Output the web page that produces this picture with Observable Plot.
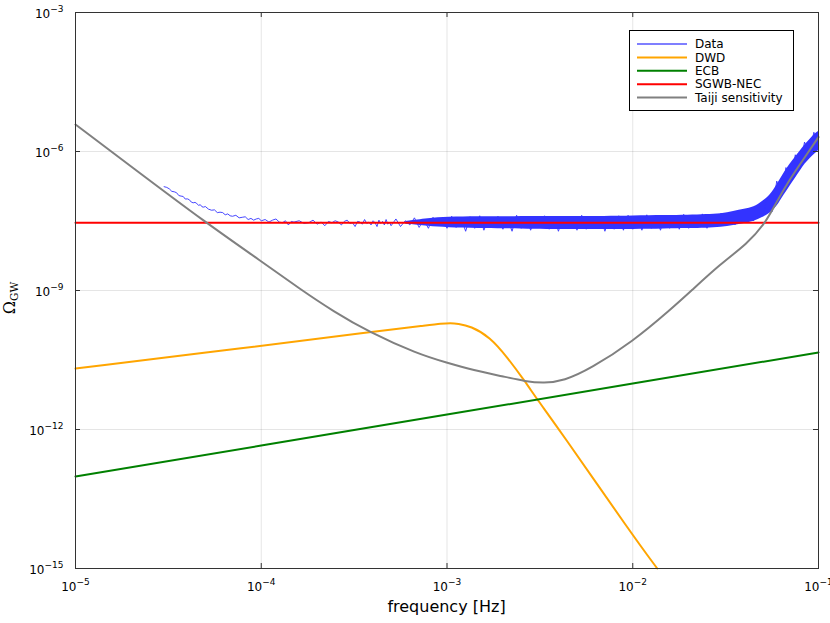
<!DOCTYPE html>
<html><head><meta charset="utf-8">
<script src="https://cdn.jsdelivr.net/npm/d3@7"></script>
<script src="https://cdn.jsdelivr.net/npm/@observablehq/plot@0.6"></script>
<style>body{margin:0;background:#fff} svg{display:block}</style>
</head><body><div id="chart"></div>
<script>
// ---- axes ----
const xTicks = [1e-5, 1e-4, 1e-3, 1e-2, 1e-1];
const xTickLabels = ["10−5", "10−4", "10−3", "10−2", "10−1"];
const yTicks = [1e-15, 1e-12, 1e-9, 1e-6, 1e-3];
const yTickLabels = ["10−15", "10−12", "10−9", "10−6", "10−3"];
const xLabel = "frequency [Hz]";
const seriesNames = ["Data", "DWD", "ECB", "SGWB-NEC", "Taiji sensitivity"];
const seriesColors = ["#0000ff", "#ffa500", "#008000", "#ff0000", "#808080"];

// ---- Data (noisy) ----
const dataFreq = [
  3.0e-5,3.1e-5,3.2e-5,3.3e-5,3.4e-5,3.5e-5,3.6e-5,3.7e-5,3.8e-5,3.9e-5,4.0e-5,4.1e-5,4.2e-5,4.3e-5,4.4e-5,4.5e-5,4.6e-5,4.7e-5,4.8e-5,4.9e-5,
  5.0e-5,5.2e-5,5.4e-5,5.6e-5,5.8e-5,6.0e-5,6.2e-5,6.4e-5,6.6e-5,6.8e-5,7.0e-5,7.3e-5,7.6e-5,7.9e-5,8.2e-5,8.5e-5,8.8e-5,9.1e-5,9.4e-5,9.7e-5,
  1.0e-4,1.05e-4,1.1e-4,1.15e-4,1.2e-4,1.25e-4,1.3e-4,1.35e-4,1.4e-4,1.45e-4,1.5e-4,
  1.6e-4,1.7e-4,1.8e-4,1.9e-4,2.0e-4,2.1e-4,2.2e-4,2.3e-4,2.4e-4,2.5e-4,2.6e-4,2.7e-4,2.8e-4,2.9e-4,3.0e-4,3.1e-4,3.2e-4,3.3e-4,3.4e-4,3.5e-4,
  3.6e-4,3.7e-4,3.8e-4,3.9e-4,4.0e-4,4.1e-4,4.2e-4,4.3e-4,4.4e-4,4.5e-4,4.6e-4,4.7e-4,4.8e-4,4.9e-4,5.0e-4,
  5.31e-4,5.62e-4,5.96e-4,6.31e-4,6.68e-4,7.08e-4,7.50e-4,7.94e-4,8.41e-4,8.91e-4,9.44e-4,
  1.00e-3,1.06e-3,1.12e-3,1.19e-3,1.26e-3,1.33e-3,1.41e-3,1.50e-3,1.58e-3,1.68e-3,1.78e-3,1.88e-3,2.00e-3,2.11e-3,2.24e-3,2.37e-3,2.51e-3,2.66e-3,2.82e-3,2.99e-3,
  3.16e-3,3.35e-3,3.55e-3,3.76e-3,3.98e-3,4.22e-3,4.47e-3,4.73e-3,5.01e-3,5.31e-3,5.62e-3,5.96e-3,6.31e-3,6.68e-3,7.08e-3,7.50e-3,7.94e-3,8.41e-3,8.91e-3,9.44e-3,
  1.00e-2,1.06e-2,1.12e-2,1.19e-2,1.26e-2,1.33e-2,1.41e-2,1.50e-2,1.58e-2,1.68e-2,1.78e-2,1.88e-2,2.00e-2,2.11e-2,2.24e-2,2.37e-2,2.51e-2,2.66e-2,2.82e-2,2.99e-2,
  3.16e-2,3.35e-2,3.55e-2,3.76e-2,3.98e-2,4.22e-2,4.47e-2,4.73e-2,5.01e-2,5.31e-2,5.62e-2,5.96e-2,6.31e-2,6.68e-2,7.08e-2,7.50e-2,7.94e-2,8.41e-2,8.91e-2,9.44e-2,1.0e-1
];
const dataValue = [
  17.4e-8,16.8e-8,15.6e-8,13.8e-8,13.5e-8,12.9e-8,11.2e-8,10.9e-8,10.7e-8,9.4e-8,9.5e-8,9.1e-8,8.1e-8,7.8e-8,8.0e-8,7.5e-8,6.9e-8,7.1e-8,6.4e-8,6.3e-8,
  6.5e-8,5.7e-8,5.4e-8,5.5e-8,4.8e-8,4.9e-8,4.8e-8,4.3e-8,4.5e-8,4.1e-8,4.0e-8,4.2e-8,3.7e-8,3.8e-8,3.9e-8,3.4e-8,3.6e-8,3.3e-8,3.5e-8,3.6e-8,
  3.2e-8,3.4e-8,3.0e-8,3.3e-8,3.5e-8,3.0e-8,2.9e-8,3.2e-8,2.6e-8,3.1e-8,3.0e-8,
  3.2e-8,2.8e-8,2.9e-8,3.3e-8,2.7e-8,3.0e-8,2.5e-8,3.1e-8,2.9e-8,3.2e-8,3.0e-8,2.6e-8,3.1e-8,3.3e-8,2.8e-8,2.9e-8,2.4e-8,3.1e-8,3.0e-8,2.7e-8,
  3.4e-8,2.8e-8,3.0e-8,2.6e-8,3.2e-8,2.9e-8,2.4e-8,3.3e-8,2.8e-8,3.1e-8,2.6e-8,3.4e-8,2.7e-8,3.0e-8,2.5e-8,
  3.5e-8,2.4e-8,3.2e-8,2.6e-8,3.7e-8,2.3e-8,3.4e-8,2.2e-8,3.8e-8,2.5e-8,3.6e-8,
  2.2e-8,4.0e-8,2.3e-8,3.7e-8,1.9e-8,3.9e-8,2.2e-8,4.1e-8,2.0e-8,3.7e-8,2.3e-8,4.0e-8,2.1e-8,3.8e-8,1.9e-8,4.2e-8,2.2e-8,3.9e-8,2.0e-8,3.7e-8,
  2.3e-8,4.1e-8,2.1e-8,3.9e-8,1.9e-8,4.0e-8,2.2e-8,3.8e-8,2.0e-8,4.2e-8,2.1e-8,3.9e-8,2.3e-8,4.0e-8,1.9e-8,3.8e-8,2.1e-8,4.1e-8,2.0e-8,4.2e-8,
  2.1e-8,3.9e-8,2.0e-8,4.3e-8,2.2e-8,4.0e-8,2.0e-8,4.2e-8,2.2e-8,4.1e-8,2.1e-8,4.4e-8,2.2e-8,4.2e-8,2.3e-8,4.5e-8,2.2e-8,4.4e-8,2.4e-8,4.7e-8,
  2.5e-8,4.9e-8,2.6e-8,5.2e-8,2.9e-8,5.6e-8,3.2e-8,6.5e-8,4.0e-8,1.0e-7,5.0e-8,2.3e-7,1.1e-7,4.5e-7,2.2e-7,8.5e-7,4.5e-7,1.6e-6,8.0e-7,2.6e-6,1.4e-6
];
// dense part of the Data: envelope of the noise band
const bandFreq = [6e-4,8e-4,1e-3,1.5e-3,2e-3,3e-3,4e-3,5e-3,7e-3,1e-2,1.5e-2,2e-2,2.5e-2,3e-2,3.5e-2,4e-2,4.5e-2,5e-2,5.5e-2,6e-2,6.5e-2,7e-2,7.5e-2,8e-2,8.5e-2,9e-2,9.5e-2,1e-1];
const bandHi = [3.1e-8,3.6e-8,3.85e-8,3.95e-8,3.86e-8,3.95e-8,3.95e-8,3.95e-8,3.95e-8,4.06e-8,4.16e-8,4.16e-8,4.37e-8,4.48e-8,5.07e-8,5.74e-8,6.18e-8,8.34e-8,1.12e-7,1.94e-7,3.35e-7,5.24e-7,7.42e-7,1.05e-6,1.42e-6,1.82e-6,2.33e-6,2.70e-6];
const bandLo = [2.7e-8,2.4e-8,2.25e-8,2.18e-8,2.18e-8,2.07e-8,2.07e-8,2.07e-8,2.07e-8,2.07e-8,2.12e-8,2.18e-8,2.18e-8,2.29e-8,2.53e-8,2.79e-8,3.08e-8,3.76e-8,4.59e-8,6.50e-8,1.12e-7,1.76e-7,2.61e-7,3.89e-7,5.51e-7,7.06e-7,8.61e-7,1.05e-6];

// ---- DWD ----
const dwdFreq = [1e-5,8.75e-5,3.79e-4,8.0e-4,9.23e-4,1.05e-3,1.14e-3,1.34e-3,1.71e-3,2.11e-3,2.65e-3,3.06e-3,4.0e-3,1e-2,1.355e-2];
const dwdValue = [2.07e-11,5.97e-11,1.26e-10,1.80e-10,1.93e-10,1.99e-10,1.93e-10,1.71e-10,9.82e-11,3.63e-11,1.05e-11,4.44e-12,1.03e-12,5.15e-15,1.0e-15];

// ---- ECB ----
const ecbFreq = [1e-5,1e-4,1e-3,1e-2,1e-1];
const ecbValue = [9.7e-14,4.5e-13,2.1e-12,9.8e-12,4.6e-11];

// ---- SGWB-NEC ----
const necFreq = [1e-5,1e-1];
const necValue = [2.9e-8,2.9e-8];

// ---- Taiji sensitivity ----
const taijiFreq = [1e-5,2e-5,5.01e-5,1e-4,1.63e-4,2.46e-4,3.79e-4,6.92e-4,1e-3,1.39e-3,2.0e-3,2.65e-3,3.32e-3,4.26e-3,5.93e-3,1e-2,1.6e-2,2.05e-2,2.97e-2,4.13e-2,5.18e-2,5.87e-2,6.92e-2,8.69e-2,1e-1];
const taijiValue = [3.83e-6,4.7e-7,2.94e-8,4.29e-9,1.05e-9,3.50e-10,1.28e-10,4.3e-11,2.75e-11,1.9e-11,1.4e-11,1.09e-11,9.98e-12,1.12e-11,2.05e-11,7.9e-11,3.9e-10,9.6e-10,3.77e-9,1.02e-8,2.86e-8,7.43e-8,2.37e-7,8.91e-7,2.04e-6];

const rows = (fs, vs) => fs.map((f, i) => ({f, v: vs[i]}));
const band = bandFreq.map((f, i) => ({f, lo: bandLo[i], hi: bandHi[i]}));

const W = 830, H = 623, mL = 75, mR = 12, mT = 12, mB = 55;
const iw = W - mL - mR, ih = H - mT - mB, tk = 5;
const dataBlue = "#3333ff";

const plot = Plot.plot({
  width: W, height: H,
  marginLeft: mL, marginRight: mR, marginTop: mT, marginBottom: mB,
  style: {fontFamily: "DejaVu Sans", fontSize: "12px", background: "#fff", color: "#000"},
  x: {type: "log", domain: [1e-5, 1e-1], label: null},
  y: {type: "log", domain: [1e-15, 1e-3], label: null},
  marks: [
    Plot.gridX(xTicks, {stroke: "#000", strokeOpacity: 0.1}),
    Plot.gridY(yTicks, {stroke: "#000", strokeOpacity: 0.1}),
    Plot.areaY(band, {x: "f", y1: "lo", y2: "hi", fill: dataBlue, curve: "basis"}),
    Plot.line(rows(dataFreq, dataValue), {x: "f", y: "v", stroke: dataBlue, strokeOpacity: 0.9, strokeWidth: 1}),
    Plot.line(rows(dwdFreq, dwdValue), {x: "f", y: "v", stroke: seriesColors[1], strokeWidth: 2, curve: "basis"}),
    Plot.line(rows(ecbFreq, ecbValue), {x: "f", y: "v", stroke: seriesColors[2], strokeWidth: 2}),
    Plot.line(rows(necFreq, necValue), {x: "f", y: "v", stroke: seriesColors[3], strokeWidth: 2}),
    Plot.line(rows(taijiFreq, taijiValue), {x: "f", y: "v", stroke: seriesColors[4], strokeWidth: 2, curve: "basis"}),
    Plot.frame({stroke: "#333", strokeWidth: 1}),
    Plot.tickX(xTicks, {x: d => d, insetTop: ih - tk, stroke: "#333"}),
    Plot.tickX(xTicks, {x: d => d, insetBottom: ih - tk, stroke: "#333"}),
    Plot.tickY(yTicks, {y: d => d, insetRight: iw - tk, stroke: "#333"}),
    Plot.tickY(yTicks, {y: d => d, insetLeft: iw - tk, stroke: "#333"}),
    Plot.axisX(xTicks, {tickSize: 0, tickPadding: 14, fontSize: 12, label: null,
      tickFormat: d => xTickLabels[xTicks.indexOf(d)]}),
    Plot.axisY(yTicks, {tickSize: 0, tickPadding: 12, fontSize: 12, dy: 2, label: null,
      tickFormat: d => yTickLabels[yTicks.indexOf(d)]})
  ]
});

const svg = d3.select(plot);
// superscript exponents in tick labels
svg.selectAll('g[aria-label="x-axis tick label"] text, g[aria-label="y-axis tick label"] text').each(function () {
  const s = this.textContent;
  this.textContent = s.slice(0, 2);
  d3.select(this).append("tspan").attr("dy", -6).attr("font-size", 9).text(s.slice(2));
});

// axis titles
svg.append("text").attr("x", mL + iw / 2).attr("y", 612).attr("text-anchor", "middle")
  .attr("font-family", "DejaVu Sans").attr("font-size", 16).attr("fill", "#000").text(xLabel);
const yl = svg.append("text").attr("transform", "translate(15,298) rotate(-90)").attr("text-anchor", "middle")
  .attr("font-family", "DejaVu Serif").attr("font-size", 16).attr("fill", "#000");
yl.append("tspan").text("Ω");
yl.append("tspan").attr("font-size", 10.5).attr("dy", 3).text("GW");

// legend
const lg = svg.append("g").attr("font-family", "DejaVu Sans").attr("font-size", 12).attr("text-anchor", "start");
lg.append("rect").attr("x", 629.5).attr("y", 30.5).attr("width", 164).attr("height", 80)
  .attr("fill", "#fff").attr("stroke", "#000").attr("stroke-width", 1);
seriesNames.forEach((name, i) => {
  const y = 44 + i * 13.4;
  lg.append("line").attr("x1", 637).attr("x2", 687).attr("y1", y).attr("y2", y)
    .attr("stroke", seriesColors[i]).attr("stroke-width", 2).attr("stroke-opacity", i === 0 ? 0.5 : 1);
  lg.append("text").attr("x", 695).attr("y", y).attr("dy", "0.35em").attr("text-anchor", "start")
    .attr("fill", "#000").text(name);
});

document.getElementById("chart").appendChild(plot);
</script>
</body></html>
